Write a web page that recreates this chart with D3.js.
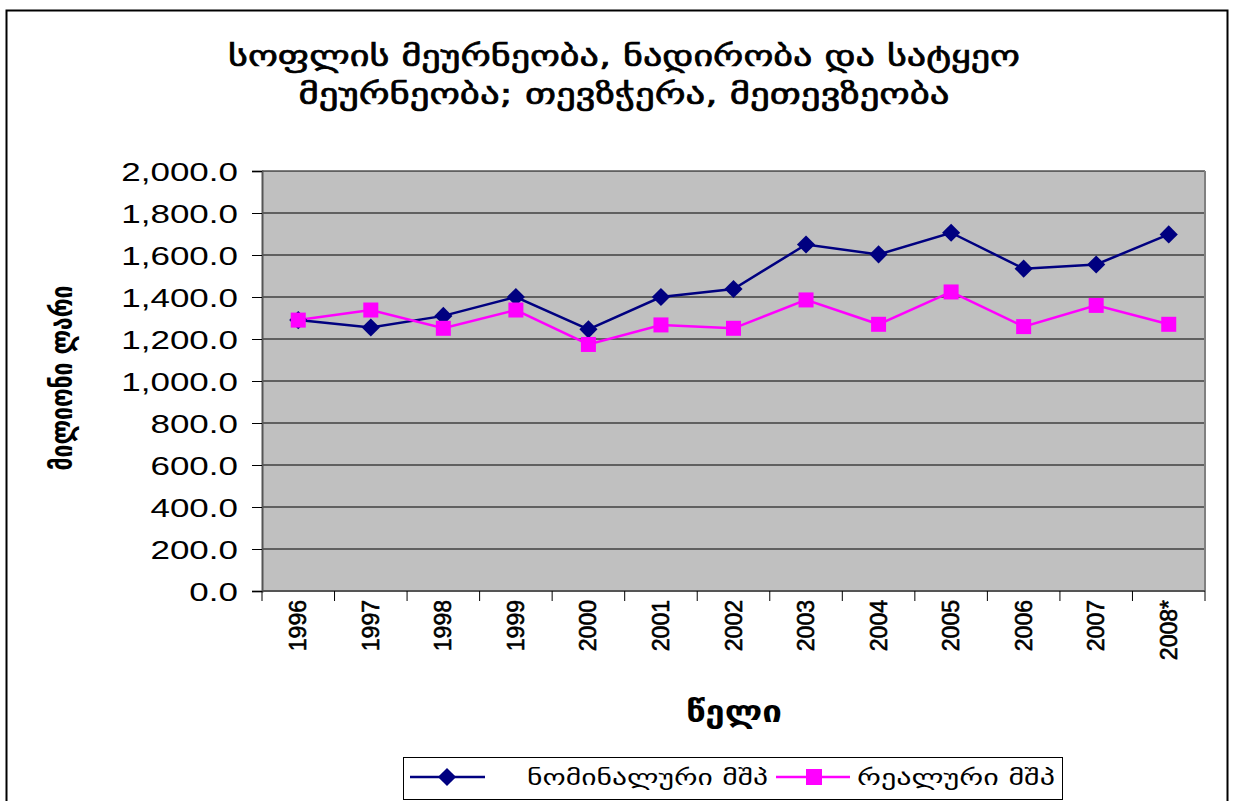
<!DOCTYPE html>
<html>
<head>
<meta charset="utf-8">
<script src="https://cdn.jsdelivr.net/npm/d3@7"></script>
<style>
  body { margin: 0; background: #fff; }
  svg { display: block; }
</style>
</head>
<body>
<div id="chart"></div>
<script>
// data
const years = ["1996", "1997", "1998", "1999", "2000", "2001", "2002", "2003", "2004", "2005", "2006", "2007", "2008*"];
const nominal = [1290, 1255, 1310, 1400, 1246, 1400, 1438, 1650, 1603, 1706, 1535, 1555, 1698];
const real = [1290, 1338, 1251, 1338, 1174, 1267, 1251, 1386, 1270, 1424, 1259, 1360, 1270];
const yTicks = [0, 200, 400, 600, 800, 1000, 1200, 1400, 1600, 1800, 2000];
const titleLines = ["სოფლის მეურნეობა, ნადირობა და სატყეო", "მეურნეობა; თევზჭერა, მეთევზეობა"];
const seriesNames = ["ნომინალური მშპ", "რეალური მშპ"];

const W = 1233, H = 801;
const margin = {top: 171, right: 28, bottom: 210, left: 262};
const width = W - margin.left - margin.right;
const height = H - margin.top - margin.bottom;
const geo = "'DejaVu Sans', sans-serif";
const latin = "'Liberation Sans', Arial, sans-serif";

const svg = d3.select("#chart").append("svg").attr("width", W).attr("height", H);

// outer frame
svg.append("rect").attr("x", 6.5).attr("y", 10.5).attr("width", 1221).attr("height", 800)
  .attr("fill", "none").attr("stroke", "#000").attr("stroke-width", 2);

// title
const titleW = [792, 651];
svg.append("g").selectAll("text").data(titleLines).join("text")
  .attr("x", 624).attr("y", (d, i) => 66 + i * 38)
  .attr("text-anchor", "middle")
  .attr("textLength", (d, i) => titleW[i]).attr("lengthAdjust", "spacingAndGlyphs")
  .style("font-family", geo).style("font-size", "29px")
  .style("stroke", "#000").style("stroke-width", 0.7)
  .text(d => d);

const root = svg.append("g").attr("transform", `translate(${margin.left},${margin.top})`);

const x = d3.scaleBand().domain(years).range([0, width]);
const y = d3.scaleLinear().domain([0, 2000]).range([height, 0]);

root.append("rect").attr("width", width).attr("height", height).attr("fill", "#c0c0c0");

// gridlines
root.append("g").selectAll("line").data(yTicks.slice(1)).join("line")
  .attr("x1", 0).attr("x2", width)
  .attr("y1", d => y(d)).attr("y2", d => y(d))
  .attr("stroke", "#000").attr("stroke-width", 1.2);

// right border
root.append("line").attr("x1", width).attr("x2", width).attr("y1", 0).attr("y2", height)
  .attr("stroke", "#808080").attr("stroke-width", 2);

// y axis
const yAxis = root.append("g")
  .call(d3.axisLeft(y).tickValues(yTicks).tickSize(10).tickPadding(14).tickFormat(d3.format(",.1f")));
yAxis.select(".domain").attr("stroke", "#555").attr("stroke-width", 2);
yAxis.selectAll("text")
  .attr("x", 0).attr("dy", "0.36em")
  .attr("transform", "translate(-24,0) scale(1.4,1)")
  .style("font-family", latin).style("font-size", "25px").attr("fill", "#000");

// x axis: ticks at band boundaries
const xAxis = root.append("g").attr("transform", `translate(0,${height})`);
xAxis.append("line").attr("x1", 0).attr("x2", width).attr("stroke", "#555").attr("stroke-width", 2);
xAxis.selectAll(".tk").data(d3.range(years.length + 1)).join("line")
  .attr("x1", i => i * x.bandwidth()).attr("x2", i => i * x.bandwidth())
  .attr("y1", 0).attr("y2", 10).attr("stroke", "#000");
xAxis.selectAll(".lbl").data(years).join("text")
  .attr("transform", d => `translate(${x(d) + x.bandwidth() / 2 + 8},9) rotate(-90)`)
  .attr("text-anchor", "end")
  .style("font-family", latin)
  .style("font-size", "23px").style("stroke", "#000").style("stroke-width", 0.6)
  .text(d => d);

// axis titles
svg.append("text").attr("transform", "translate(72,378) rotate(-90)").attr("text-anchor", "middle")
  .attr("textLength", 185).attr("lengthAdjust", "spacingAndGlyphs")
  .style("font-family", geo).style("font-size", "30px").style("font-weight", "bold")
  .text("მილიონი ლარი");
svg.append("text").attr("x", 734).attr("y", 722).attr("text-anchor", "middle")
  .attr("textLength", 96).attr("lengthAdjust", "spacingAndGlyphs")
  .style("font-family", geo).style("font-size", "31px").style("font-weight", "bold")
  .text("წელი");

// series
const cx = i => x(years[i]) + x.bandwidth() / 2;
const line = d3.line().x((d, i) => cx(i)).y(d => y(d));
const diamond = d3.symbol().type(d3.symbolDiamond2).size(210);

root.append("path").datum(nominal).attr("d", line).attr("fill", "none")
  .attr("stroke", "#000080").attr("stroke-width", 2.5);
root.append("path").datum(real).attr("d", line).attr("fill", "none")
  .attr("stroke", "#ff00ff").attr("stroke-width", 2.5);

root.append("g").selectAll("path").data(nominal).join("path")
  .attr("transform", (d, i) => `translate(${cx(i)},${y(d)})`)
  .attr("d", diamond).attr("fill", "#000080");
root.append("g").selectAll("rect").data(real).join("rect")
  .attr("x", (d, i) => cx(i) - 7.5).attr("y", d => y(d) - 7.5)
  .attr("width", 15).attr("height", 15).attr("fill", "#ff00ff");

// legend
const lg = svg.append("g");
lg.append("rect").attr("x", 403.5).attr("y", 757.5).attr("width", 659).attr("height", 42)
  .attr("fill", "#fff").attr("stroke", "#000").attr("stroke-width", 1);
lg.append("line").attr("x1", 410).attr("x2", 485).attr("y1", 777).attr("y2", 777)
  .attr("stroke", "#000080").attr("stroke-width", 2.5);
lg.append("path").attr("transform", "translate(447,777)").attr("d", diamond).attr("fill", "#000080");
lg.append("text").attr("x", 527).attr("y", 785).text(seriesNames[0])
  .attr("textLength", 241).attr("lengthAdjust", "spacingAndGlyphs")
  .style("font-family", geo).style("font-size", "22px");
lg.append("line").attr("x1", 776).attr("x2", 850).attr("y1", 777).attr("y2", 777)
  .attr("stroke", "#ff00ff").attr("stroke-width", 2.5);
lg.append("rect").attr("x", 806).attr("y", 769).attr("width", 16).attr("height", 16).attr("fill", "#ff00ff");
lg.append("text").attr("x", 857).attr("y", 785).text(seriesNames[1])
  .attr("textLength", 198).attr("lengthAdjust", "spacingAndGlyphs")
  .style("font-family", geo).style("font-size", "22px");
</script>
</body>
</html>
